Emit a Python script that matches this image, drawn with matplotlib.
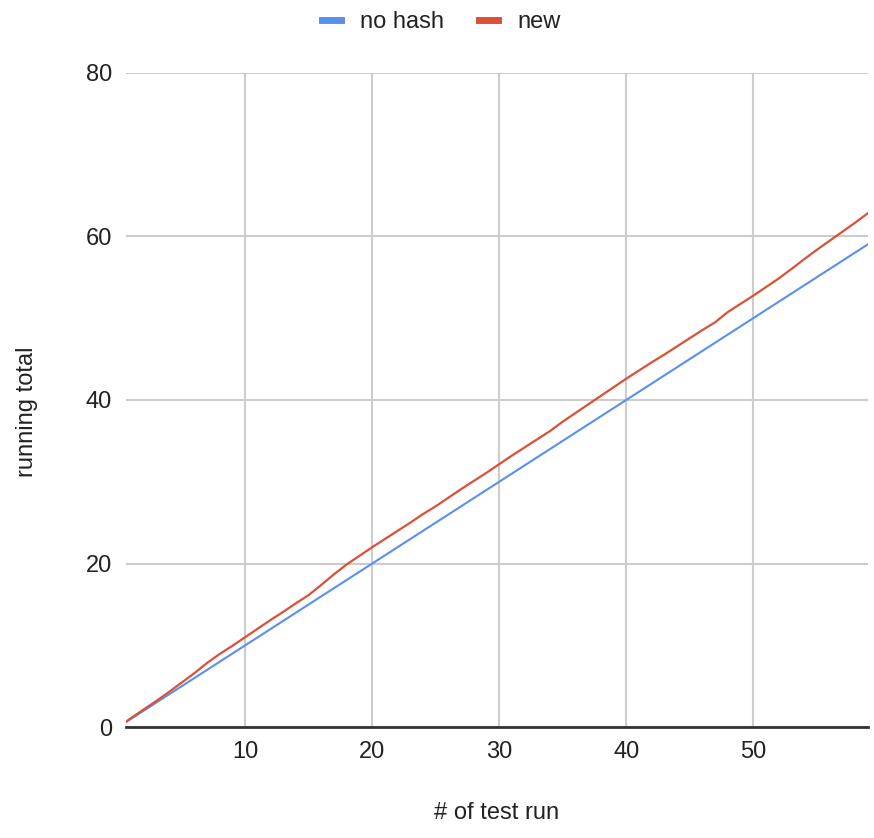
import matplotlib
matplotlib.use("Agg")
import matplotlib.pyplot as plt

plt.rcParams['font.family'] = ['Liberation Sans', 'DejaVu Sans']

run = [0.6, 1, 2, 3, 4, 5, 6, 7, 8, 9, 10, 11, 12, 13, 14, 15, 16, 17, 18, 19, 20,
       21, 22, 23, 24, 25, 26, 27, 28, 29, 30, 31, 32, 33, 34, 35, 36, 37, 38, 39, 40,
       41, 42, 43, 44, 45, 46, 47, 48, 49, 50, 51, 52, 53, 54, 55, 56, 57, 58, 59]
no_hash = [0.6, 1, 2, 3, 4, 5, 6, 7, 8, 9, 10, 11, 12, 13, 14, 15, 16, 17, 18, 19, 20,
           21, 22, 23, 24, 25, 26, 27, 28, 29, 30, 31, 32, 33, 34, 35, 36, 37, 38, 39, 40,
           41, 42, 43, 44, 45, 46, 47, 48, 49, 50, 51, 52, 53, 54, 55, 56, 57, 58, 59]
new = [0.65, 1.1, 2.15, 3.2, 4.3, 5.45, 6.6, 7.85, 8.95, 9.95, 11.0,
       12.05, 13.1, 14.1, 15.15, 16.15, 17.4, 18.7, 19.9, 20.95, 22.0,
       23.0, 24.0, 25.0, 26.05, 27.0, 28.05, 29.1, 30.1, 31.1, 32.15,
       33.2, 34.2, 35.2, 36.2, 37.35, 38.4, 39.45, 40.5, 41.55, 42.6,
       43.6, 44.6, 45.55, 46.55, 47.55, 48.55, 49.5, 50.75, 51.75, 52.75,
       53.8, 54.85, 56.0, 57.2, 58.35, 59.45, 60.55, 61.65, 62.8]

x_ticks = [10, 20, 30, 40, 50]
y_ticks = [0, 20, 40, 60, 80]

FS = 17
fig = plt.figure(figsize=(8.74, 8.38), dpi=100)
ax = fig.add_axes([126/874, 1-727/838, (868-126)/874, (727-73)/838])

ax.plot(run, no_hash, color='#5a8ff2', lw=1.5, label='no hash', zorder=3)
ax.plot(run, new, color='#db5138', lw=1.6, label='new', zorder=3)

ax.set_xlim(0.6, 59.05)
ax.set_ylim(0, 80)
ax.set_xticks(x_ticks)
ax.set_yticks(y_ticks)
ax.grid(True, color='#cccccc', lw=1.5, zorder=0)
for s in ['left', 'right', 'top']:
    ax.spines[s].set_visible(False)
ax.spines['bottom'].set_color('#333333')
ax.spines['bottom'].set_linewidth(2)
ax.spines['bottom'].set_zorder(4)
ax.tick_params(length=0, labelsize=FS, colors='#222222')
ax.tick_params(axis='x', pad=10)
ax.tick_params(axis='y', pad=10)
ax.set_xlabel('# of test run', fontsize=FS, color='#222222', labelpad=28)
ax.set_ylabel('running total', fontsize=FS, color='#222222')
ax.yaxis.set_label_coords(-0.118, 0.482)

leg = fig.legend(handles=ax.get_lines(), labels=['no hash', 'new'],
                 loc='upper center', bbox_to_anchor=(0.505, 1.012), ncol=2,
                 frameon=False, fontsize=FS, handlelength=0.8, handletextpad=0.8,
                 columnspacing=1.5)
for h in leg.legend_handles:
    h.set_linewidth(5)
for t in leg.get_texts():
    t.set_color('#222222')

fig.savefig('out.png', dpi=100)
